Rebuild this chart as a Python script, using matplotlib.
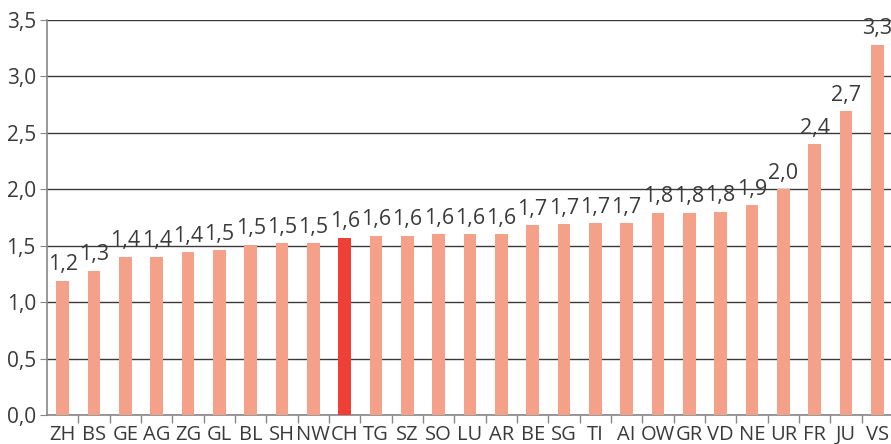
import numpy as np
import matplotlib
matplotlib.use("Agg")
import matplotlib.pyplot as plt
from matplotlib.ticker import FuncFormatter

cantons = ["ZH", "BS", "GE", "AG", "ZG", "GL", "BL", "SH", "NW", "CH", "TG", "SZ", "SO",
           "LU", "AR", "BE", "SG", "TI", "AI", "OW", "GR", "VD", "NE", "UR", "FR", "JU", "VS"]
values = [1.19, 1.28, 1.40, 1.40, 1.44, 1.46, 1.51, 1.52, 1.52, 1.57, 1.59, 1.59, 1.60,
          1.60, 1.60, 1.68, 1.69, 1.70, 1.70, 1.79, 1.79, 1.80, 1.86, 2.00, 2.40, 2.69, 3.28]
highlight = "CH"

BAR = "#F5A088"
BAR_HL = "#EE4035"
TXT = "#3a3a3a"

plt.rcParams["font.family"] = ["Open Sans", "DejaVu Sans"]

fig = plt.figure(figsize=(8.91, 4.44), dpi=100)
ax = fig.add_axes([47 / 891, 1 - 415 / 444, (893 - 47) / 891, (415 - 20) / 444])

x = np.arange(len(cantons))
colors = [BAR_HL if c == highlight else BAR for c in cantons]
ax.bar(x, values, width=0.4, color=colors, zorder=3)

for xi, v in zip(x, values):
    ax.annotate(f"{v:.1f}".replace(".", ","), (xi, v), xytext=(0, 4),
                textcoords="offset points", ha="center", va="bottom",
                fontsize=15.5, color=TXT, zorder=4, clip_on=False)

ax.set_xlim(-0.5, len(cantons) - 0.5)
ax.set_ylim(0, 3.5)
ax.set_yticks(np.arange(0, 3.51, 0.5))
ax.yaxis.set_major_formatter(FuncFormatter(lambda v, p: f"{v:.1f}".replace(".", ",")))
ax.set_xticks(x)
ax.set_xticklabels(cantons)
ax.set_xticks(np.arange(0.5, len(cantons) - 0.5, 1), minor=True)

ax.grid(axis="y", color="#3a3a3a", linewidth=1, zorder=0)
ax.tick_params(axis="x", which="major", length=0, pad=7, labelsize=14.5, colors=TXT)
ax.tick_params(axis="x", which="minor", length=6, color="#888888", width=1)
ax.tick_params(axis="y", length=5, labelsize=15, colors=TXT, pad=3)
ax.tick_params(axis="y", color="#888888")

for s in ("top", "right"):
    ax.spines[s].set_visible(False)
for s in ("left", "bottom"):
    ax.spines[s].set_color("#888888")
    ax.spines[s].set_linewidth(1.2)

fig.savefig("out.png", dpi=100)
